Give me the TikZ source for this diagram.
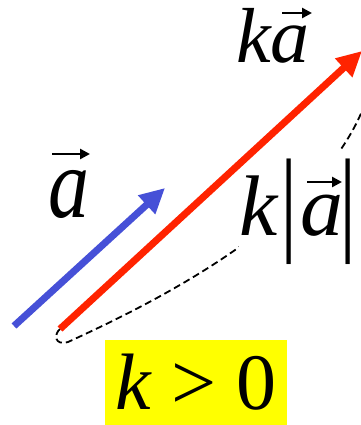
\documentclass[tikz,border=0pt]{standalone}
\usepackage{fontspec}
\setmainfont{Liberation Serif}
\usepackage{tikz}
\usetikzlibrary{calc,arrows.meta}
\definecolor{VecBlue}{RGB}{70,80,215}
\definecolor{VecRed}{RGB}{255,35,0}
\definecolor{CondYellow}{RGB}{255,255,0}
\newcommand{\absbar}{\raisebox{-4pt}{\scalebox{1}[1.35]{\upshape|}}}

\begin{document}
\begin{tikzpicture}[x=1pt,y=-1pt,
  vec/.style={line width=7pt,-{Triangle[length=25pt,width=24pt]}},
  acc/.style={line width=2.5pt,-{Triangle[length=10pt,width=10pt]}},
  lbl/.style={inner sep=0pt,anchor=base west,font=\itshape}]
\useasboundingbox (0,0) rectangle (360,425);
\coordinate (b0) at (14,326);\coordinate (b1) at (165,188);\coordinate (r0) at (60,329);\coordinate (r1) at (362,51);\coordinate (brace) at (368,95);
\draw[line width=1.8pt,dash pattern=on 7pt off 4pt] (r0) .. controls (54,334) and (54,346) .. (68,342) .. controls (160,300) and (330,215) .. (brace);
\node[lbl,font=\itshape\fontsize{78}{78}\selectfont] (ka) at (236,63) {ka};
\node[lbl,font=\itshape\fontsize{100}{100}\selectfont] (a) at (48,217) {\scalebox{0.82}[1]{a}};
\node[lbl,fill=white,inner ysep=8pt,font=\itshape\fontsize{86}{86}\selectfont] (kabs) at (239,235) {k\kern3pt\absbar\kern3pt a\kern-4pt\absbar};
\draw[acc] ([shift={(46,-50)}]ka.base west) -- ++(30,0);
\draw[acc] ([shift={(4,-63)}]a.base west) -- ++(38,0);
\draw[acc] ([shift={(68,-53)}]kabs.base west) -- ++(35,0);
\node[fill=CondYellow,minimum width=182pt,minimum height=85pt,inner sep=0pt,font=\fontsize{80}{80}\selectfont] (cond) at (196,382.5) {\textit{k} > 0};
\draw[vec,draw=VecBlue,fill=VecBlue] (b0)--(b1);
\draw[vec,draw=VecRed,fill=VecRed] (r0)--(r1);
\end{tikzpicture}
\end{document}
